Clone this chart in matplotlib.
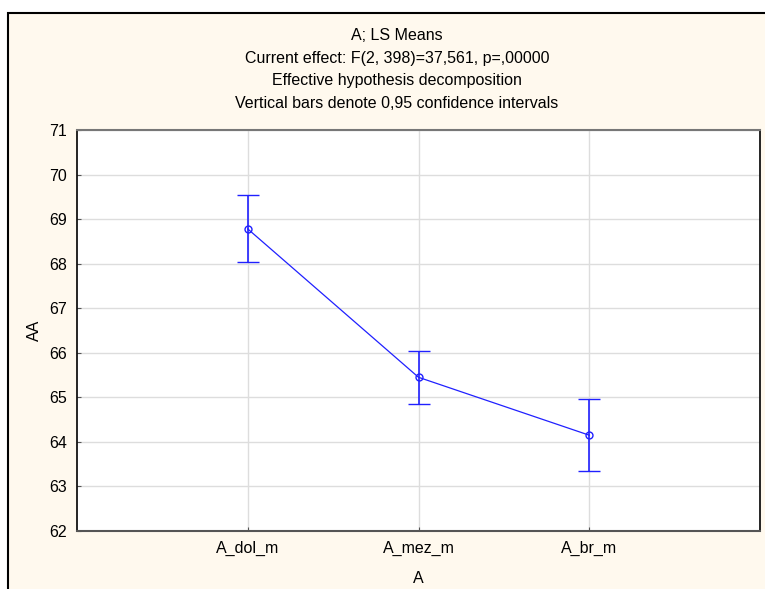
import numpy as np
import matplotlib.pyplot as plt
from matplotlib.patches import Rectangle

plt.rcParams['font.family'] = ['Liberation Sans', 'DejaVu Sans']

# LS means with 0.95 confidence limits
categories = ['A_dol_m', 'A_mez_m', 'A_br_m']
means = [68.78, 65.45, 64.15]
lower = [68.03, 64.86, 63.35]
upper = [69.53, 66.04, 64.96]

title_lines = ['A; LS Means',
               'Current effect: F(2, 398)=37,561, p=,00000',
               'Effective hypothesis decomposition',
               'Vertical bars denote 0,95 confidence intervals']

bg = '#FFF9EE'
blue = '#2020FF'

fig = plt.figure(figsize=(7.65, 5.89), dpi=100)
fig.patch.set_facecolor('white')
# cream panel with black frame (right and bottom edges fall outside the figure)
fig.patches.append(Rectangle((8 / 765, -0.1), 1.2, 1.1 - 13 / 589, transform=fig.transFigure,
                             facecolor=bg, edgecolor='black', linewidth=1.5, zorder=-5))

ax = fig.add_axes([77 / 765, 58 / 589, 683 / 765, 401 / 589])
ax.set_facecolor('white')

x = np.arange(1, len(categories) + 1)
m = np.array(means)
yerr = np.array([m - np.array(lower), np.array(upper) - m])
ax.errorbar(x, m, yerr=yerr, color=blue, linewidth=0.9, elinewidth=1.2,
            capsize=8, capthick=1.2, marker='o', markersize=5,
            markerfacecolor='none', markeredgecolor=blue, markeredgewidth=1.0, zorder=3)

ax.set_xlim(0, 4)
ax.set_ylim(62, 71)
ax.set_xticks(x)
ax.set_xticklabels(categories)
ax.set_yticks(np.arange(62, 72, 1))
ax.grid(True, color='#DDDDDD', linewidth=1)
ax.set_axisbelow(True)
ax.tick_params(direction='in', length=3, color='#555555', labelsize=11.5, pad=7)

for side in ['left', 'right']:
    ax.spines[side].set_color('black')
    ax.spines[side].set_linewidth(1.2)
ax.spines['top'].set_color('#777777')
ax.spines['top'].set_linewidth(1.5)
ax.spines['bottom'].set_color('#555555')
ax.spines['bottom'].set_linewidth(1.5)

ax.set_xlabel('A', fontsize=11.5, labelpad=11)
ax.set_ylabel('AA', fontsize=11.5, labelpad=5)

for i, line in enumerate(title_lines):
    fig.text(397 / 765, 1 - (35 + 23 * i) / 589, line, ha='center', va='center', fontsize=11.5)

fig.savefig('out.png', dpi=100, facecolor=fig.get_facecolor())
